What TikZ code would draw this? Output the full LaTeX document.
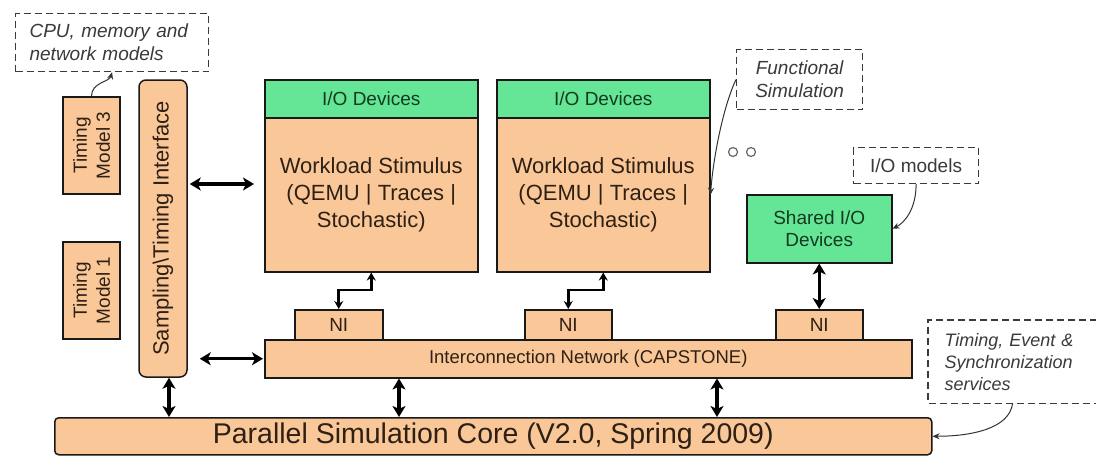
\documentclass[tikz,border=0pt]{standalone}
\usepackage{fontspec}
\setmainfont{Liberation Sans}
\usetikzlibrary{arrows.meta,calc}
\definecolor{peach}{HTML}{FAC898}
\definecolor{mint}{HTML}{64E696}
\definecolor{inkbrown}{HTML}{2E2015}
\definecolor{inkgreen}{HTML}{143A20}
\definecolor{notegray}{HTML}{3A3A3A}
\newcommand\fsz[2]{\fontsize{#1}{#2}\selectfont}

\begin{document}
\begin{tikzpicture}[x=1pt,y=-1pt,
  blk/.style={draw=black!90, line width=1.5pt, fill=peach, text=inkbrown, inner sep=0pt, align=center},
  gblk/.style={blk, fill=mint, text=inkgreen},
  note/.style={draw=notegray, dash pattern=on 7pt off 4pt, line width=1.2pt, text=notegray, inner sep=0pt, font=\itshape\fsz{19}{23}},
  link/.style={line width=3.2pt, {Stealth[length=11pt,width=13pt,inset=3pt]}-{Stealth[length=11pt,width=13pt,inset=3pt]}},
  thinlink/.style={line width=2.6pt, {Stealth[length=8pt,width=9pt]}-{Stealth[length=8pt,width=9pt]}},
  callout/.style={line width=1pt, draw=black!80, -{Stealth[length=7pt,width=6pt]}},
  dotc/.style={circle, draw=black!60, line width=1.2pt, minimum size=9pt, inner sep=0pt},
]
\useasboundingbox (0,0) rectangle (1096,458);
\fill[white] (0,0) rectangle (1096,458);

% timing models and the sampling interface
\node[blk, rotate=90, minimum width=97, minimum height=57, font=\fsz{19}{23}] (tm3) at (91.5,145.5) {Timing\\Model 3};
\node[blk, rotate=90, minimum width=97, minimum height=57, font=\fsz{19}{23}] (tm1) at (91.5,290.5) {Timing\\Model 1};
\node[blk, rotate=90, rounded corners=7pt, minimum width=297, minimum height=48, font=\fsz{22}{26}] (samp) at (163,228.5) {Sampling\textbackslash Timing Interface};

% workload stimulus blocks
\node[gblk, anchor=north west, minimum width=213, minimum height=38, font=\fsz{19}{23}] (w1h) at (264,79) {I/O Devices};
\node[blk, anchor=north west, minimum width=213, minimum height=154, font=\fsz{22}{27}] (w1) at (264,117) {Workload Stimulus\\(QEMU | Traces |\\Stochastic)};
\node[gblk, anchor=north west, minimum width=213, minimum height=38, font=\fsz{19}{23}] (w2h) at (496,79) {I/O Devices};
\node[blk, anchor=north west, minimum width=213, minimum height=154, font=\fsz{22}{27}] (w2) at (496,117) {Workload Stimulus\\(QEMU | Traces |\\Stochastic)};

\node[dotc] (d1) at (733,152) {};
\node[dotc] (d2) at (751,152) {};

% shared devices
\node[gblk, anchor=north west, minimum width=145, minimum height=68, font=\fsz{19}{22}] (shared) at (746,194) {Shared I/O\\Devices};

% network interfaces and network
\node[blk, anchor=north west, minimum width=88, minimum height=30, font=\fsz{19}{23}] (ni1) at (294,309) {NI};
\node[blk, anchor=north west, minimum width=87, minimum height=30, font=\fsz{19}{23}] (ni2) at (524,309) {NI};
\node[blk, anchor=north west, minimum width=87, minimum height=30, font=\fsz{19}{23}] (ni3) at (775,309) {NI};
\node[blk, anchor=north west, minimum width=647, minimum height=38, font=\fsz{18.5}{22}] (net) at (264,339) {Interconnection Network (CAPSTONE)};

% simulation core
\node[blk, anchor=north west, rounded corners=4pt, minimum width=877, minimum height=37, font=\fsz{28.5}{34}] (core) at (54,417) {Parallel Simulation Core (V2.0, Spring 2009)};

% annotations
\node[note, anchor=north west, minimum width=193, minimum height=58, text width=165, align=left] (cpu) at (15,13) {CPU, memory and\\network models};
\node[note, anchor=north west, minimum width=126, minimum height=60, align=center] (fnote) at (736,49) {Functional\\Simulation};
\node[note, anchor=north west, minimum width=125, minimum height=36, font=\fsz{19}{23}] (ionote) at (853,147) {I/O models};
\node[note, draw=none, anchor=north west, minimum width=168, minimum height=82, text width=136, align=left, font=\itshape\fsz{18}{22}] (tnote) at (928,320) {Timing, Event \&\\Synchronization\\services};
\draw[notegray, dash pattern=on 7pt off 4pt, line width=1.2pt] (tnote.north east) -- (tnote.north west) -- (tnote.south west) -- (tnote.south east);

% connections
\coordinate (r1) at (0,184);
\draw[link, shorten <=2pt, shorten >=10pt] (samp.south |- r1) -- (w1.west |- r1);
\draw[link, shorten <=12pt, shorten >=1pt] (samp.south |- net.west) -- (net.west);
\coordinate (c1) at ($(samp.west)+(6,0)$);
\draw[link] (c1) -- (c1 |- core.north);
\coordinate (c2) at (399,0);
\draw[link] (c2 |- net.south) -- (c2 |- core.north);
\coordinate (c3) at (717,0);
\draw[link] (c3 |- net.south) -- (c3 |- core.north);
\draw[thinlink] (ni1.north) -- ++(0,-19) -| (w1.south);
\draw[thinlink] (ni2.north) -- ++(0,-19) -| (w2.south);
\draw[link] (shared.south) -- (ni3.north);

% callout arrows
\draw[callout] (tm3.east) .. controls +(0,-14) and +(-3,10) .. (cpu.south);
\draw[callout] (fnote.west) .. controls +(-12,25) and +(3,-40) .. (w2.east);
\draw[callout] (ionote.south) .. controls +(0,25) and +(12,-6) .. (shared.east);
\draw[callout] (tnote.south) .. controls +(-3,25) and +(40,0) .. (core.east);
\end{tikzpicture}
\end{document}
